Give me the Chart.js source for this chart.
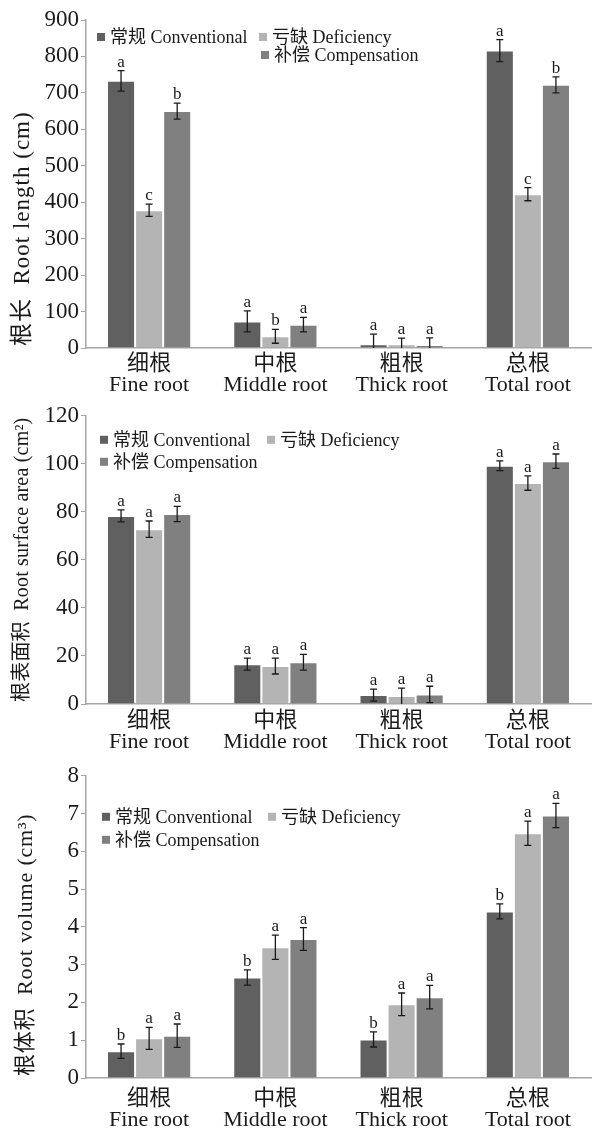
<!DOCTYPE html>
<html>
<head>
<meta charset="utf-8">
<script src="https://cdn.jsdelivr.net/npm/chart.js@4"></script>
<style>
  body { margin: 0; background: #fff; width: 599px; height: 1131px; position: relative; overflow: hidden; }
  .box { position: absolute; left: 0; width: 599px; }
</style>
</head>
<body>
<div class="box" style="top:0;height:400px"><canvas id="c1"></canvas></div>
<div class="box" style="top:400px;height:360px"><canvas id="c2"></canvas></div>
<div class="box" style="top:760px;height:371px"><canvas id="c3"></canvas></div>
<script>
// categories and series
var categories = [['细根', 'Fine root'], ['中根', 'Middle root'], ['粗根', 'Thick root'], ['总根', 'Total root']];
var seriesNames = ['常规 Conventional', '亏缺 Deficiency', '补偿 Compensation'];
var seriesColors = ['#606060', '#b4b4b4', '#808080'];

// 根长 Root length (cm)
var lengthConv = [733, 73, 10, 816];
var lengthDef = [378, 32, 10, 422];
var lengthComp = [650, 64, 8, 722];
var lengthConvErr = [28, 29, 28, 30];
var lengthDefErr = [17, 19, 17, 18];
var lengthCompErr = [22, 20, 20, 22];
var lengthConvSig = ['a', 'a', 'a', 'a'];
var lengthDefSig = ['c', 'b', 'a', 'c'];
var lengthCompSig = ['b', 'a', 'a', 'b'];
var lengthTicks = [0, 100, 200, 300, 400, 500, 600, 700, 800, 900];

// 根表面积 Root surface area (cm2)
var areaConv = [78.3, 16.6, 3.7, 99.2];
var areaDef = [72.8, 15.8, 3.3, 92.0];
var areaComp = [79.1, 17.4, 4.0, 101.1];
var areaConvErr = [2.5, 2.5, 2.5, 2.0];
var areaDefErr = [3.4, 3.3, 3.3, 3.0];
var areaCompErr = [3.2, 3.3, 3.4, 3.0];
var areaConvSig = ['a', 'a', 'a', 'a'];
var areaDefSig = ['a', 'a', 'a', 'a'];
var areaCompSig = ['a', 'a', 'a', 'a'];
var areaTicks = [0, 20, 40, 60, 80, 100, 120];

// 根体积 Root volume (cm3)
var volConv = [0.71, 2.66, 1.02, 4.41];
var volDef = [1.05, 3.46, 1.95, 6.48];
var volComp = [1.12, 3.68, 2.14, 6.95];
var volConvErr = [0.19, 0.20, 0.20, 0.20];
var volDefErr = [0.29, 0.32, 0.30, 0.32];
var volCompErr = [0.31, 0.30, 0.31, 0.32];
var volConvSig = ['b', 'b', 'b', 'b'];
var volDefSig = ['a', 'a', 'a', 'a'];
var volCompSig = ['a', 'a', 'a', 'a'];
var volTicks = [0, 1, 2, 3, 4, 5, 6, 7, 8];

var FONT = "'Liberation Serif', 'Noto Sans CJK SC', serif";

// error bars, significance letters, in-plot legend and the y title
var extras = {
  id: 'extras',
  afterDatasetsDraw: function (chart, args, opts) {
    var ctx = chart.ctx;
    var y = chart.scales.y;
    ctx.save();
    chart.data.datasets.forEach(function (ds, i) {
      var meta = chart.getDatasetMeta(i);
      meta.data.forEach(function (bar, j) {
        var v = ds.data[j], e = ds.errors[j];
        var top = y.getPixelForValue(v + e);
        var low = v - e;
        var bottom = y.getPixelForValue(Math.max(low, 0));
        ctx.strokeStyle = '#1a1a1a';
        ctx.lineWidth = 1.3;
        ctx.beginPath();
        ctx.moveTo(bar.x, top);
        ctx.lineTo(bar.x, bottom);
        ctx.moveTo(bar.x - 3.5, top);
        ctx.lineTo(bar.x + 3.5, top);
        if (low > 0) {
          ctx.moveTo(bar.x - 3.5, bottom);
          ctx.lineTo(bar.x + 3.5, bottom);
        }
        ctx.stroke();
        ctx.fillStyle = '#1a1a1a';
        ctx.font = '17px ' + FONT;
        ctx.textAlign = 'center';
        ctx.textBaseline = 'alphabetic';
        ctx.fillText(ds.letters[j], bar.x, top - 4);
      });
    });
    var area = chart.chartArea;
    ctx.font = '18px ' + FONT;
    ctx.textAlign = 'left';
    ctx.textBaseline = 'middle';
    opts.legend.forEach(function (p, i) {
      var lx = area.left + p[0], ly = area.top + p[1];
      ctx.fillStyle = seriesColors[i];
      ctx.fillRect(lx, ly - 4, 8, 8);
      ctx.fillStyle = '#1a1a1a';
      ctx.fillText(seriesNames[i], lx + 13, ly + 1);
    });
    // rotated y title
    var t = opts.title;
    ctx.translate(t.x, area.bottom - 2);
    ctx.rotate(-Math.PI / 2);
    ctx.font = t.size + 'px ' + FONT;
    if ('letterSpacing' in ctx) ctx.letterSpacing = t.spacing + 'px';
    ctx.fillStyle = '#1a1a1a';
    ctx.textAlign = 'left';
    ctx.textBaseline = 'middle';
    ctx.fillText(t.text, 0, 0);
    ctx.restore();
  }
};

function makeChart(id, vals, errs, sigs, ticks, title, padTop, xHeight, labelPad, legendPos) {
  var datasets = vals.map(function (v, i) {
    return {
      label: seriesNames[i],
      data: v,
      errors: errs[i],
      letters: sigs[i],
      backgroundColor: seriesColors[i],
      borderColor: 'rgba(255,255,255,0.3)',
      borderWidth: 1,
      barPercentage: 1,
      categoryPercentage: 0.667
    };
  });
  return new Chart(document.getElementById(id), {
    type: 'bar',
    data: { labels: categories, datasets: datasets },
    plugins: [extras],
    options: {
      responsive: true,
      maintainAspectRatio: false,
      animation: false,
      layout: { padding: { top: padTop, right: 8, left: 0, bottom: 0 } },
      plugins: {
        legend: { display: false },
        tooltip: { enabled: false },
        extras: { legend: legendPos, title: title }
      },
      scales: {
        x: {
          grid: { display: false, drawTicks: false },
          border: { display: true, color: '#a6a6a6', width: 1.5 },
          ticks: { color: '#1a1a1a', font: { family: FONT, size: 22, lineHeight: 0.95 }, padding: labelPad, maxRotation: 0, autoSkip: false },
          afterFit: function (s) { s.height = xHeight; }
        },
        y: {
          min: ticks[0],
          max: ticks[ticks.length - 1],
          afterBuildTicks: function (s) { s.ticks = ticks.map(function (t) { return { value: t }; }); },
          grid: { display: true, drawOnChartArea: false, drawTicks: true, tickLength: 5, color: '#a6a6a6' },
          border: { display: true, color: '#a6a6a6', width: 1.5 },
          ticks: { color: '#1a1a1a', font: { family: FONT, size: 23 }, padding: 2 },
          afterFit: function (s) { s.width = 86; }
        }
      }
    }
  });
}

makeChart('c1', [lengthConv, lengthDef, lengthComp], [lengthConvErr, lengthDefErr, lengthCompErr],
  [lengthConvSig, lengthDefSig, lengthCompSig], lengthTicks,
  { text: '根长  Root length (cm)', size: 23, spacing: 1, x: 23 }, 20, 52, 6,
  [[11, 17], [173, 17], [175, 35]]);
makeChart('c2', [areaConv, areaDef, areaComp], [areaConvErr, areaDefErr, areaCompErr],
  [areaConvSig, areaDefSig, areaCompSig], areaTicks,
  { text: '根表面积  Root surface area (cm²)', size: 20, spacing: 0.2, x: 23 }, 15, 56, 7,
  [[14, 24], [181, 24], [14, 46]]);
makeChart('c3', [volConv, volDef, volComp], [volConvErr, volDefErr, volCompErr],
  [volConvSig, volDefSig, volCompSig], volTicks,
  { text: '根体积  Root volume (cm³)', size: 22, spacing: 0.8, x: 26 }, 13, 53, 11,
  [[16, 41], [182, 41], [16, 64]]);
</script>
</body>
</html>
